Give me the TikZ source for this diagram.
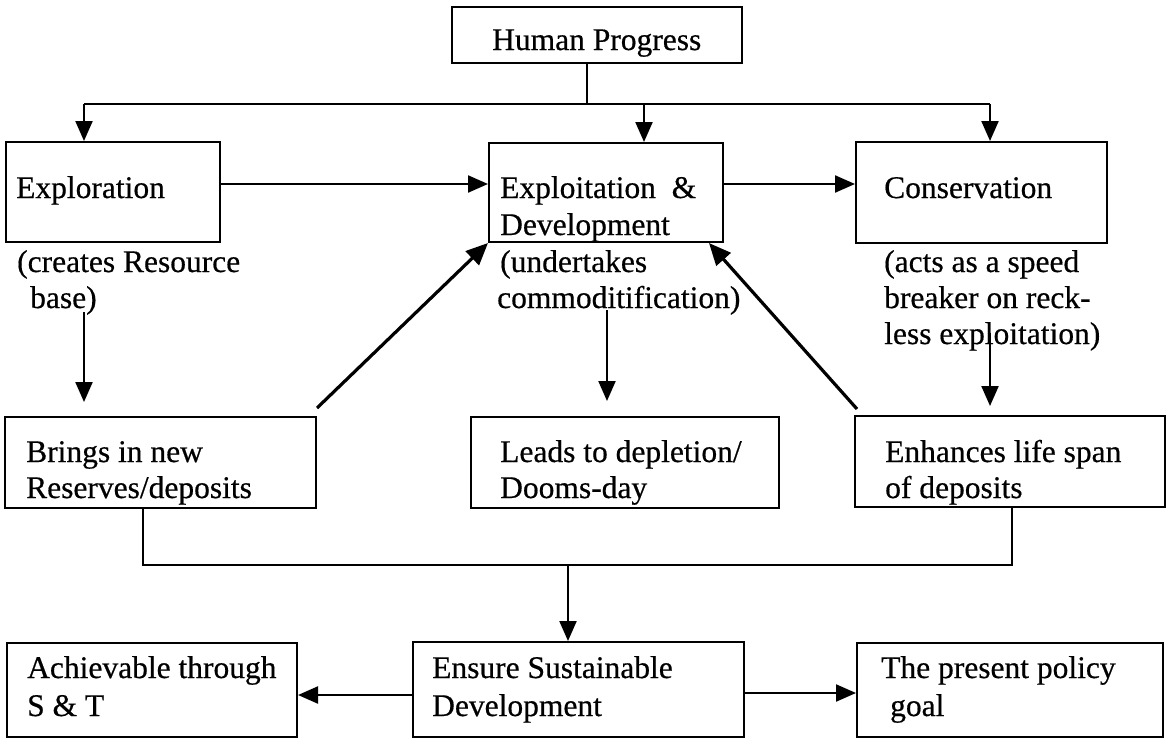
\documentclass[tikz,border=0pt]{standalone}
\usepackage{fontspec}
\setmainfont{Liberation Serif}[FakeBold=0.5]
\usetikzlibrary{arrows.meta,calc}
\begin{document}
\begin{tikzpicture}[x=1pt,y=-1pt,
  box/.style={draw, line width=2pt, inner sep=0pt, rectangle},
  txt/.style={anchor=base west, inner sep=0pt, font=\fontsize{31.5}{36}\selectfont},
  conn/.style={line width=2.2pt},
  arr/.style={line width=2.2pt, -{Triangle[length=20pt,width=17pt]}},
  darr/.style={line width=3.2pt, -{Triangle[length=22pt,width=19pt]}}
]
\useasboundingbox (0,0) rectangle (1174,739);
% boxes
\node[box, minimum width=290pt, minimum height=56pt] (hp) at (597,35) {};
\node[box, minimum width=214pt, minimum height=100pt] (expl) at (113,192) {};
\node[box, minimum width=234pt, minimum height=99pt] (exdv) at (606,192.5) {};
\node[box, minimum width=251pt, minimum height=101pt] (cons) at (981.5,192.5) {};
\node[box, minimum width=311pt, minimum height=91pt] (brng) at (160.5,462.5) {};
\node[box, minimum width=308pt, minimum height=91pt] (lead) at (625,462.5) {};
\node[box, minimum width=310pt, minimum height=91pt] (enh) at (1010,461.5) {};
\node[box, minimum width=290pt, minimum height=94pt] (ach) at (152,690) {};
\node[box, minimum width=331pt, minimum height=95pt] (ens) at (578.5,689.5) {};
\node[box, minimum width=306pt, minimum height=94pt] (pres) at (1010,690) {};
% texts
\node[txt] (thp) at (492,50) {Human Progress};
\node[txt] (tex) at (16,198) {Exploration};
\node[txt] (ted1) at (500,198) {Exploitation~~\&};
\node[txt] (ted2) at (500,235) {Development};
\node[txt] (tcn) at (884,198) {Conservation};
\node[txt] (tc1) at (17,272) {(creates Resource};
\node[txt] (tc2) at (30,308) {base)};
\node[txt] (tu1) at (500,272) {(undertakes};
\node[txt] (tu2) at (497,308) {commoditification)};
\node[txt] (ta1) at (884,272) {(acts as a speed};
\node[txt] (ta2) at (884,308) {breaker on reck-};
\node[txt] (ta3) at (884,344) {less exploitation)};
\node[txt] (tb1) at (26,462) {Brings in new};
\node[txt] (tb2) at (26,498) {Reserves/deposits};
\node[txt] (tl1) at (500,462) {Leads to depletion/};
\node[txt] (tl2) at (500,498) {Dooms-day};
\node[txt] (te1) at (885,462) {Enhances life span};
\node[txt] (te2) at (885,498) {of deposits};
\node[txt] (tac1) at (27,678) {Achievable through};
\node[txt] (tac2) at (27,716) {S \& T};
\node[txt] (ten1) at (432,678) {Ensure Sustainable};
\node[txt] (ten2) at (432,716) {Development};
\node[txt] (tp1) at (881,678) {The present policy};
\node[txt] (tp2) at (890,716) {goal};
% top distribution
\coordinate (j1) at (587,104);
\coordinate (tL) at (84,104);
\coordinate (tM) at (644,104);
\coordinate (tR) at (990,104);
\draw[conn] (hp.south -| j1) -- (j1);
\draw[conn] (tL) -- (tR);
\draw[arr] (tL) -- (tL |- expl.north);
\draw[arr] (tM) -- (tM |- exdv.north);
\draw[arr] (tR) -- (tR |- cons.north);
% horizontal flow
\draw[arr] ([yshift=8pt]expl.east) -- ([yshift=8pt]expl.east -| exdv.west);
\draw[arr] ([yshift=8.5pt]exdv.east) -- ([yshift=8.5pt]exdv.east -| cons.west);
% annotation arrows
\coordinate (aL) at (84,312);
\coordinate (aLe) at (84,402);
\coordinate (aM) at (607,310);
\coordinate (aMe) at (607,401);
\coordinate (aR) at (990,333);
\coordinate (aRe) at (990,406);
\draw[arr] (aL) -- (aLe);
\draw[arr] (aM) -- (aMe);
\draw[arr] (aR) -- (aRe);
% diagonals
\coordinate (dL) at (317,408);
\coordinate (dR) at (857,409);
\draw[darr] (dL) -- (exdv.south west);
\draw[darr] (dR) -- ($(exdv.south east)+(-15,0)$);
% collector
\coordinate (cL) at (143,565);
\coordinate (cM) at (568,565);
\coordinate (cR) at (1012,565);
\draw[conn] (brng.south -| cL) -- (cL) -- (cR) -- (cR |- enh.south);
\draw[arr] (cM) -- (cM |- ens.north);
% bottom
\draw[arr] ([yshift=-5.5pt]ens.west) -- ([yshift=-5.5pt]ens.west -| ach.east);
\draw[arr] ([yshift=-3.5pt]ens.east) -- ([yshift=-3.5pt]ens.east -| pres.west);
\end{tikzpicture}
\end{document}
